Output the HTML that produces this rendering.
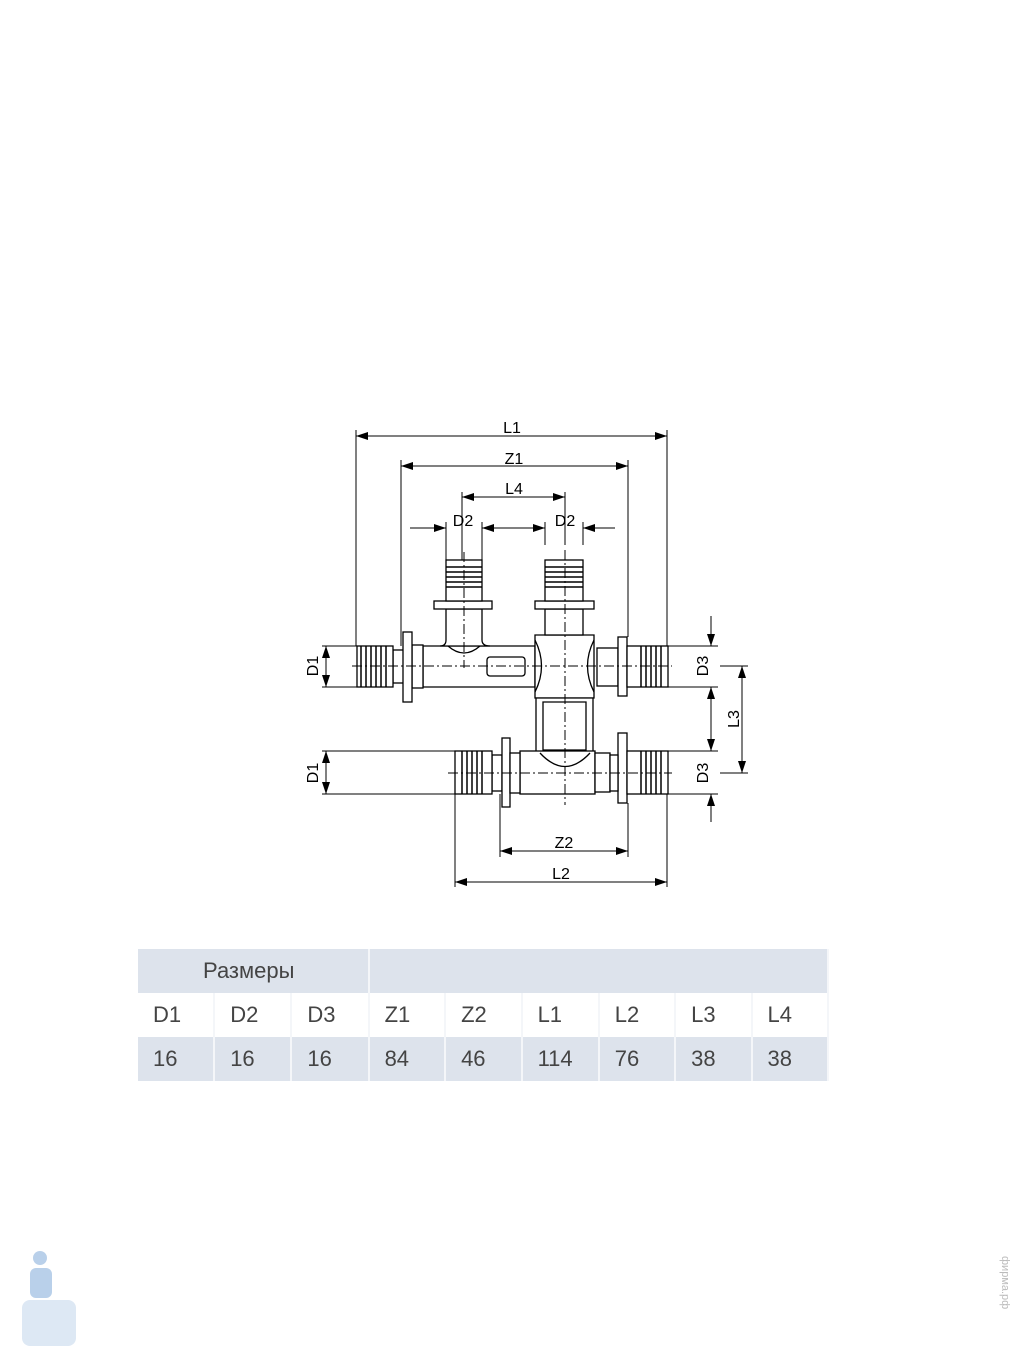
<!DOCTYPE html>
<html><head><meta charset="utf-8"><style>
body{margin:0;background:#fff;width:1023px;height:1364px;position:relative;overflow:hidden;font-family:"Liberation Sans",sans-serif}
table{position:absolute;left:138px;top:949px;border-collapse:collapse;width:691px;color:#444;font-size:22px}
td{height:44px;padding:0 0 0 15px;border-right:2px solid #f4f6f9;width:62px}
.b td{background:#dde3ec}
</style></head><body>
<svg width="1023" height="1364" style="position:absolute;left:0;top:0" font-family="Liberation Sans,sans-serif" font-size="16">
<defs>
<marker id="a" markerWidth="12" markerHeight="8" refX="12" refY="4" orient="auto-start-reverse" markerUnits="userSpaceOnUse"><path d="M0,0L12,4L0,8z" fill="#000"/></marker>
</defs>
<g stroke="#000" stroke-width="1" fill="none">
<path d="M356,430V646M401,460V646M628,460V637M667,430V646M462,492V562M565,492V545M482,522V560M545,522V545M583,522V545M446,522V560"/>
<path d="M455,794V887M500,794V857M628,803V857M667,794V887"/>
<path d="M322,646H357M322,687H357M322,751H455M322,794H455"/>
<path d="M668,646H718M668,687H718M668,751H718M668,794H718M720,666H748M720,773H748"/>
<path d="M356,436H667" marker-start="url(#a)" marker-end="url(#a)"/>
<path d="M401,466H628" marker-start="url(#a)" marker-end="url(#a)"/>
<path d="M462,497H565" marker-start="url(#a)" marker-end="url(#a)"/>
<path d="M410,528H446" marker-end="url(#a)"/><path d="M512,528H482" marker-end="url(#a)"/>
<path d="M512,528H545" marker-end="url(#a)"/><path d="M615,528H583" marker-end="url(#a)"/>
<path d="M500,851H628" marker-start="url(#a)" marker-end="url(#a)"/>
<path d="M455,882H667" marker-start="url(#a)" marker-end="url(#a)"/>
<path d="M326,646V687" marker-start="url(#a)" marker-end="url(#a)"/>
<path d="M326,751V794" marker-start="url(#a)" marker-end="url(#a)"/>
<path d="M711,616V646" marker-end="url(#a)"/><path d="M711,718V687" marker-end="url(#a)"/>
<path d="M711,718V751" marker-end="url(#a)"/><path d="M711,822V794" marker-end="url(#a)"/>
<path d="M742,666V773" marker-start="url(#a)" marker-end="url(#a)"/>
</g>
<g stroke="#000" stroke-width="1.3" fill="#fff">
<rect x="393" y="650" width="12" height="33"/>
<rect x="357" y="646" width="36" height="41"/>
<path d="M423,646H535V687H423z"/>
<rect x="412" y="645" width="11" height="43"/>
<rect x="403" y="632" width="9" height="70"/>
<rect x="487" y="657" width="38" height="19" rx="3"/>
<path d="M535,635H594V698H535z"/>
<path d="M535,640Q548,666 535,692M594,640Q581,666 594,692" fill="none"/>
<rect x="597" y="648" width="21" height="38"/>
<rect x="618" y="637" width="9" height="59"/>
<rect x="627" y="646" width="41" height="41"/>
<path d="M446,609H482V640Q482,646 490,646H440Q446,646 446,640z"/>
<path d="M448,646Q464,660 480,646" fill="none"/>
<rect x="434" y="601" width="58" height="8"/>
<rect x="446" y="560" width="36" height="41"/>
<rect x="545" y="609" width="38" height="26"/>
<rect x="535" y="601" width="59" height="8"/>
<rect x="545" y="560" width="38" height="41"/>
<path d="M536,698H593V753H536z"/>
<path d="M543,702H586V750H543z" fill="none"/>
<rect x="520" y="751" width="75" height="43"/>
<path d="M540,753Q565,780 590,753" fill="none"/>
<rect x="492" y="755" width="10" height="36"/>
<rect x="502" y="738" width="8" height="69"/>
<rect x="510" y="753" width="10" height="40"/>
<rect x="455" y="751" width="37" height="43"/>
<rect x="595" y="753" width="15" height="39"/>
<rect x="618" y="733" width="9" height="70"/>
<rect x="610" y="755" width="8" height="36"/>
<rect x="627" y="751" width="41" height="43"/>
</g>
<g stroke="#000" stroke-width="1.5">
<path d="M361,646V687M366,646V687M371,646V687M376,646V687M381,646V687M386,646V687"/>
<path d="M641,646V687M646,646V687M651,646V687M656,646V687M661,646V687"/>
<path d="M462,751V794M467,751V794M472,751V794M477,751V794M482,751V794"/>
<path d="M641,751V794M646,751V794M651,751V794M656,751V794M661,751V794"/>
<path d="M446,567H482M446,572H482M446,577H482M446,582H482M446,587H482"/>
<path d="M545,567H583M545,572H583M545,577H583M545,582H583M545,587H583"/>
</g>
<path stroke="#000" stroke-width="1" fill="none" stroke-dasharray="10,3,2,3" d="M352,666H672M448,773H672M464,552V668M565,550V805"/>
<g fill="#000" text-anchor="middle">
<text x="512" y="433">L1</text><text x="514" y="464">Z1</text><text x="514" y="494">L4</text>
<text x="463" y="526">D2</text><text x="565" y="526">D2</text>
<text x="564" y="848">Z2</text><text x="561" y="879">L2</text>
<text transform="translate(318,666) rotate(-90)">D1</text>
<text transform="translate(318,773) rotate(-90)">D1</text>
<text transform="translate(708,666) rotate(-90)">D3</text>
<text transform="translate(708,773) rotate(-90)">D3</text>
<text transform="translate(739,719) rotate(-90)">L3</text>
</g>
<g fill="#b9d0ea"><circle cx="40" cy="1258" r="7"/><rect x="30" y="1268" width="22" height="30" rx="6"/><rect x="22" y="1300" width="54" height="46" rx="8" fill="#dde8f4"/></g>
<text transform="translate(1002,1256) rotate(90)" font-size="11" fill="#bbb">фирма.рф</text>
</svg>
<table>
<tr class="b"><td colspan="3" style="padding-left:65px">Размеры</td><td colspan="6"></td></tr>
<tr><td>D1</td><td>D2</td><td>D3</td><td>Z1</td><td>Z2</td><td>L1</td><td>L2</td><td>L3</td><td>L4</td></tr>
<tr class="b"><td>16</td><td>16</td><td>16</td><td>84</td><td>46</td><td>114</td><td>76</td><td>38</td><td>38</td></tr>
</table>
</body></html>
